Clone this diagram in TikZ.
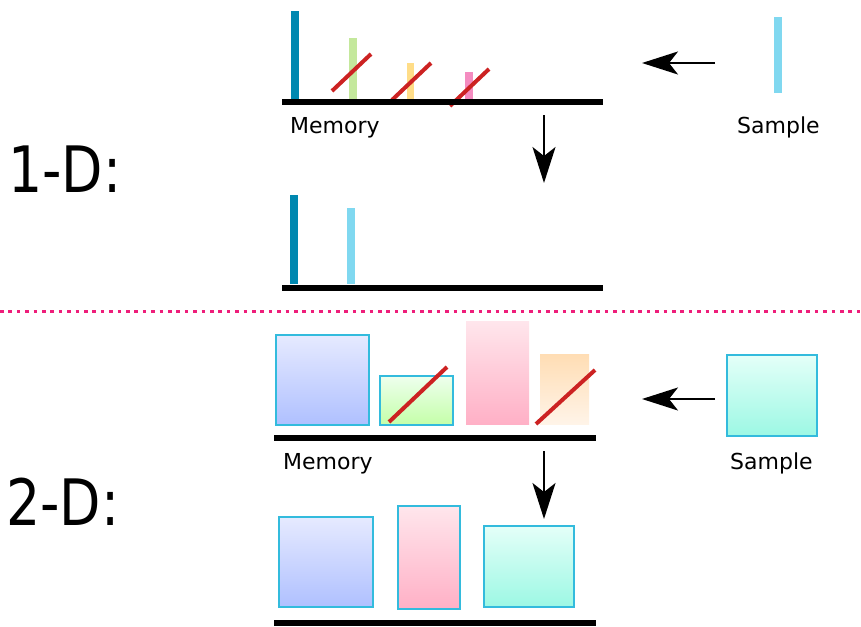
\documentclass[tikz,border=0pt]{standalone}
\usepackage{fontspec}
\setmainfont{DejaVu Sans}
\usetikzlibrary{arrows.meta}

\definecolor{tealbar}{HTML}{0088B0}
\definecolor{skybar}{HTML}{80D8F0}
\definecolor{greenbar}{HTML}{C4E89C}
\definecolor{yellowbar}{HTML}{FFDD88}
\definecolor{pinkbar}{HTML}{F48CC0}
\definecolor{slash}{HTML}{CC2222}
\definecolor{divider}{HTML}{EE1E7A}
\definecolor{frame}{HTML}{33BBDD}

\tikzset{
  floor/.style={line width=6pt, draw=black},
  strike/.style={line width=4pt, draw=slash},
  flow/.style={line width=2pt, -{Stealth[length=36pt, width=23pt, inset=9pt]}},
  label/.style={font=\fontsize{22}{24}\selectfont, inner sep=0pt, anchor=base west},
  title/.style={font=\fontsize{64}{70}\selectfont, inner sep=0pt, anchor=base west},
  bluebox/.style={top color={rgb,255:red,230;green,234;blue,255}, bottom color={rgb,255:red,175;green,192;blue,255}, draw=frame, line width=1.2pt},
  greenbox/.style={top color={rgb,255:red,238;green,255;blue,238}, bottom color={rgb,255:red,196;green,255;blue,168}, draw=frame, line width=1.2pt},
  pinkbox/.style={top color={rgb,255:red,255;green,230;blue,236}, bottom color={rgb,255:red,255;green,176;blue,198}},
  orangebox/.style={top color={rgb,255:red,255;green,221;blue,180}, bottom color={rgb,255:red,255;green,244;blue,232}},
  aquabox/.style={top color={rgb,255:red,228;green,255;blue,248}, bottom color={rgb,255:red,156;green,248;blue,228}, draw=frame, line width=1.2pt},
}

\begin{document}
\begin{tikzpicture}[x=1pt, y=-1pt]
\useasboundingbox (0,0) rectangle (861,626);

% ---------- 1-D ----------
\node[title] (oned) at (8,192) {\scalebox{0.84}[1]{1-D:}};

% memory before insertion
\fill[tealbar]   (291,11) rectangle (299,101);
\fill[greenbar]  (349,38) rectangle (357,101);
\fill[yellowbar] (407,63) rectangle (414,101);
\fill[pinkbar]   (465,72) rectangle (473,101);
\draw[strike] (332,91) -- (371,54);
\draw[strike] (392,100) -- (431,63);
\draw[strike] (450,106) -- (489,69);
\draw[floor] (282,102) -- (603,102);
\node[label] (mem1) at (290,133) {Memory};

% incoming sample
\fill[skybar] (774,17) rectangle (782,93);
\node[label] (smp1) at (737,133) {Sample};

\coordinate (in1a) at (715,63);
\coordinate (in1b) at (642,63);
\draw[flow] (in1a) -- (in1b);
\coordinate (dn1a) at (544,115);
\coordinate (dn1b) at (544,183);
\draw[flow] (dn1a) -- (dn1b);

% memory after insertion
\fill[tealbar] (290,195) rectangle (298,284);
\fill[skybar]  (347,208) rectangle (355,284);
\draw[floor] (282,288) -- (603,288);

% ---------- divider ----------
\coordinate (divl) at (0,311.5);
\coordinate (divr) at (861,311.5);
\draw[divider, line width=3.5pt, dash pattern=on 3.5pt off 4.9pt] (divl) -- (divr);

% ---------- 2-D ----------
\node[title] (twod) at (6,525) {\scalebox{0.84}[1]{2-D:}};

% memory before insertion
\path[bluebox]   (276,335) rectangle (369,425);
\path[greenbox]  (380,376) rectangle (453,425);
\path[pinkbox]   (466,321) rectangle (529,424);
\path[orangebox] (540,354) rectangle (589,424);
\draw[strike] (389,422) -- (447,367);
\draw[strike] (536,424) -- (595,370);
\draw[floor] (274,438) -- (596,438);
\node[label] (mem2) at (283,469) {Memory};

% incoming sample
\path[aquabox] (727,355) rectangle (817,436);
\node[label] (smp2) at (730,469) {Sample};

\coordinate (in2a) at (715,399);
\coordinate (in2b) at (642,399);
\draw[flow] (in2a) -- (in2b);
\coordinate (dn2a) at (544,451);
\coordinate (dn2b) at (544,519);
\draw[flow] (dn2a) -- (dn2b);

% memory after insertion
\path[bluebox] (279,517) rectangle (373,607);
\path[pinkbox, draw=frame, line width=1.2pt] (398,506) rectangle (460,609);
\path[aquabox] (484,526) rectangle (574,607);
\draw[floor] (274,623) -- (596,623);
\end{tikzpicture}
\end{document}
